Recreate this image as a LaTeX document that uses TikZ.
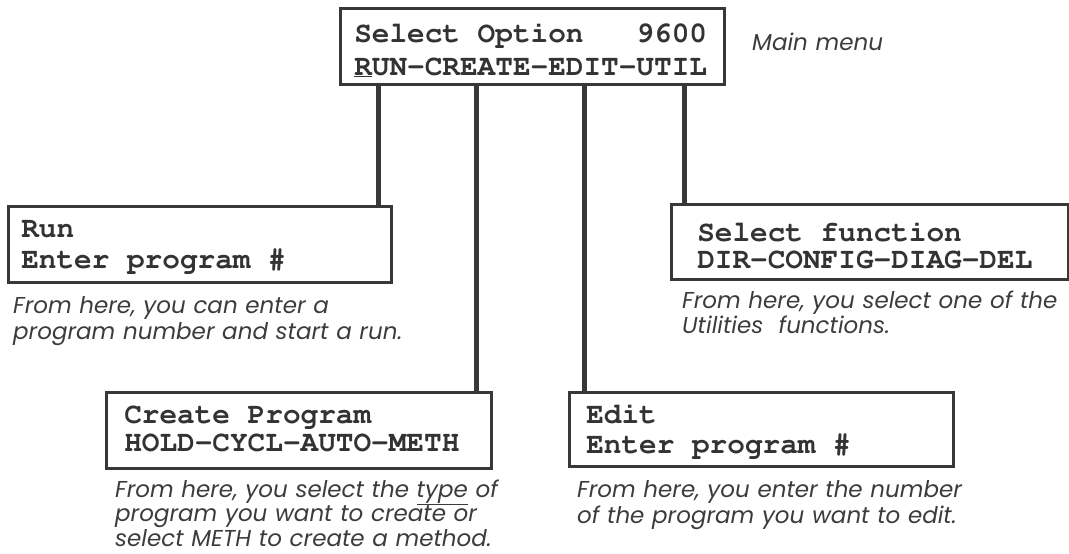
\documentclass[tikz,border=0pt]{standalone}
\usepackage[T1]{fontenc}
\usepackage{fontspec}
\newfontfamily\notefamily{Poppins}
\usetikzlibrary{positioning}

\definecolor{boxgray}{HTML}{383838}
\definecolor{notegray}{HTML}{3c3c3c}

\newcommand{\lcdfont}[1]{\fontencoding{T1}\fontfamily{pcr}\bfseries
    \fontsize{29.4}{#1}\selectfont}
\newcommand{\notefont}[1]{\fontsize{23}{#1}\selectfont\notefamily\itshape}

%   Courier with a full-width space
\tikzset{lcdbox/.style={draw=boxgray,line width=2.5pt,inner ysep=0pt,
    align=flush left,anchor=north west,text=black!80,font=\lcdfont{#1},
    execute at begin node={\spaceskip=\fontcharwd\font`0\relax\xspaceskip=\spaceskip}}}
\tikzset{menulink/.style={draw=boxgray,line width=5pt}}
\tikzset{note/.style={anchor=base west,inner sep=0pt,align=left,
    text width=420pt,text=notegray,font=\notefont{#1}}}

\begin{document}
\begin{tikzpicture}[x=1pt,y=-1pt]

\useasboundingbox (0,0) rectangle (1069,554);

%   main menu
\node[lcdbox=33,text width=356pt,inner xsep=14pt,text height=34pt,text depth=42pt]
    (main) at (339,7) {Select Option\ \ \ 9600\\\underline{R}UN-CREATE-EDIT-UTIL};
\node[note=25] (mainnote) at (752,50) {Main menu};

%   sub menus
\node[lcdbox=31,text width=357pt,inner xsep=13pt,text height=31pt,text depth=45pt]
    (run) at (7,205) {Run\\Enter program \#};
\node[lcdbox=27,text width=345pt,inner xsep=26pt,text height=37pt,text depth=38pt]
    (util) at (670,203) {Select function\\DIR-CONFIG-DIAG-DEL};
\node[lcdbox=28,text width=349pt,inner xsep=18pt,text height=31pt,text depth=45pt]
    (create) at (105,391) {Create Program\\HOLD-CYCL-AUTO-METH};
\node[lcdbox=30,text width=350pt,inner xsep=17pt,text height=31pt,text depth=43pt]
    (edit) at (568,391) {Edit\\Enter program \#};

%   notes
\node[note=26] (runnote) at (13,313)
    {From here, you can enter a\\program number and start a run.};
\node[note=25] (utilnote) at (682,308)
    {From here, you select one of the\\Utilities\ \ functions.};
\node[note=24.5] (createnote) at (115,497)
    {From here, you select the \underline{type} of\\program you want to create or\\select METH to create a method.};
\node[note=26] (editnote) at (577,497)
    {From here, you enter the number\\of the program you want to edit.};

%   links
\coordinate (mrun) at ([xshift=39pt]main.south west);
\coordinate (mcreate) at ([xshift=137pt]main.south west);
\coordinate (medit) at ([xshift=245pt]main.south west);
\coordinate (mutil) at ([xshift=345pt]main.south west);
\draw[menulink] (mrun) -- (mrun |- run.north);
\draw[menulink] (mcreate) -- (mcreate |- create.north);
\draw[menulink] (medit) -- (medit |- edit.north);
\draw[menulink] (mutil) -- (mutil |- util.north);

\end{tikzpicture}
\end{document}
